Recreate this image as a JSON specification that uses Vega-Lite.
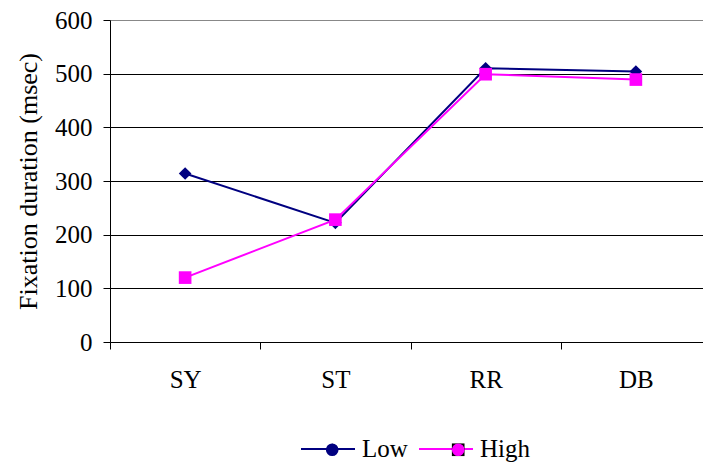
{
  "$schema": "https://vega.github.io/schema/vega-lite/v6.json",
  "autosize": {"type": "none"},
  "width": 593,
  "height": 322,
  "padding": {"left": 110, "top": 20, "right": 0, "bottom": 121},
  "background": "white",
  "config": {
    "view": {"stroke": null},
    "font": "'Liberation Serif', 'Times New Roman', Times, serif"
  },
  "data": {
    "values": [
      {"task": "SY", "group": "Low", "marker": "Low", "duration": 314},
      {"task": "ST", "group": "Low", "marker": "Low", "duration": 222},
      {"task": "RR", "group": "Low", "marker": "Low", "duration": 510},
      {"task": "DB", "group": "Low", "marker": "Low", "duration": 504},
      {"task": "SY", "group": "High", "marker": "High", "duration": 120},
      {"task": "ST", "group": "High", "marker": "High", "duration": 228},
      {"task": "RR", "group": "High", "marker": "High", "duration": 499},
      {"task": "DB", "group": "High", "marker": "High", "duration": 489}
    ]
  },
  "encoding": {
    "x": {
      "field": "task", "type": "nominal", "sort": ["SY", "ST", "RR", "DB"],
      "scale": {"type": "band", "range": [0, 601], "paddingInner": 0, "paddingOuter": 0},
      "axis": {"title": null, "labelAngle": 0, "tickBand": "extent", "tickSize": 7, "labelPadding": 18, "grid": false, "domainWidth": 1,
        "labelFont": "'Liberation Serif', 'Times New Roman', Times, serif", "labelFontSize": 25, "labelColor": "#000", "domainColor": "#000", "tickColor": "#000"}
    },
    "y": {
      "field": "duration", "type": "quantitative",
      "scale": {"domain": [0, 600], "nice": false},
      "axis": {"title": "Fixation duration (msec)", "values": [0, 100, 200, 300, 400, 500, 600], "tickSize": 7, "labelPadding": 11, "titlePadding": 13, "grid": true,
        "labelFont": "'Liberation Serif', 'Times New Roman', Times, serif", "labelFontSize": 25, "labelColor": "#000", "domainColor": "#000", "tickColor": "#000",
        "titleFont": "'Liberation Serif', 'Times New Roman', Times, serif", "titleFontSize": 26, "titleFontWeight": "normal", "titleColor": "#000",
        "gridColor": {"condition": {"test": "datum.value === 600", "value": "#888888"}, "value": "#000000"}, "gridOpacity": 1, "gridWidth": 1}
    }
  },
  "layer": [
    {
      "mark": {"type": "line", "strokeWidth": 2},
      "encoding": {
        "color": {
          "field": "group", "type": "nominal",
          "scale": {"domain": ["Low", "High"], "range": ["#000080", "#FF00FF"]},
          "legend": {
            "orient": "none", "legendX": 190, "legendY": 401, "direction": "horizontal", "title": null,
            "padding": 0, "symbolType": "stroke", "symbolSize": 2916, "symbolStrokeWidth": 2, "labelOffset": 6, "columnPadding": 7,
            "labelFont": "'Liberation Serif', 'Times New Roman', Times, serif", "labelFontSize": 25, "labelColor": "#000"
          }
        }
      }
    },
    {
      "mark": {"type": "point", "filled": true, "opacity": 1, "size": 160},
      "encoding": {
        "fill": {
          "field": "marker", "type": "nominal", "sort": ["Low", "High"],
          "scale": {"range": ["#000080", "#FF00FF"]},
          "legend": {
            "orient": "none", "legendX": 209.7, "legendY": 417, "direction": "horizontal", "title": null,
            "padding": 0, "symbolSize": 160, "symbolStrokeWidth": 0, "symbolOpacity": 1, "labelOffset": 47.4, "columnPadding": 7,
            "labelFont": "'Liberation Serif', 'Times New Roman', Times, serif", "labelFontSize": 25, "labelOpacity": 0
          }
        },
        "shape": {
          "field": "marker", "type": "nominal", "sort": ["Low", "High"],
          "scale": {"range": ["diamond", "square"]},
          "legend": {
            "orient": "none", "legendX": 209.7, "legendY": 417, "direction": "horizontal", "title": null,
            "padding": 0, "symbolSize": 160, "symbolStrokeWidth": 0, "symbolOpacity": 1, "labelOffset": 47.4, "columnPadding": 7,
            "labelFont": "'Liberation Serif', 'Times New Roman', Times, serif", "labelFontSize": 25, "labelOpacity": 0
          }
        }
      }
    }
  ]
}
